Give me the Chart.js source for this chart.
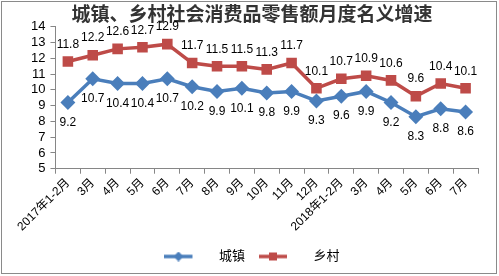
<!DOCTYPE html>
<html>
<head>
<meta charset="utf-8">
<script src="https://cdn.jsdelivr.net/npm/chart.js@4.4.0/dist/chart.umd.min.js"></script>
<style>
  html, body { margin: 0; padding: 0; background: #fff; }
  #wrap { width: 499px; height: 276px; position: relative; }
</style>
</head>
<body>
<div id="wrap"><canvas id="c" width="499" height="276"></canvas></div>
<script>
const categories = ['2017年1-2月', '3月', '4月', '5月', '6月', '7月', '8月', '9月', '10月', '11月', '12月',
  '2018年1-2月', '3月', '4月', '5月', '6月', '7月'];
const urban = [9.2, 10.7, 10.4, 10.4, 10.7, 10.2, 9.9, 10.1, 9.8, 9.9, 9.3, 9.6, 9.9, 9.2, 8.3, 8.8, 8.6];
const rural = [11.8, 12.2, 12.6, 12.7, 12.9, 11.7, 11.5, 11.5, 11.3, 11.7, 10.1, 10.7, 10.9, 10.6, 9.6, 10.4, 10.1];
const yTicks = [5, 6, 7, 8, 9, 10, 11, 12, 13, 14];

const FONT = "'Liberation Sans', 'Noto Sans CJK SC', sans-serif";
const BLUE = '#4A7EBB';
const RED = '#BE4B48';

// legend swatch: line with marker, drawn on a small canvas
function swatch(color, shape) {
  var cv = document.createElement('canvas');
  cv.width = 48; cv.height = 10;
  var g = cv.getContext('2d');
  g.strokeStyle = color; g.lineWidth = 3.5;
  g.beginPath(); g.moveTo(0, 5); g.lineTo(28, 5); g.stroke();
  g.fillStyle = color;
  if (shape === 'diamond') {
    g.beginPath(); g.moveTo(14, 0); g.lineTo(19, 5); g.lineTo(14, 10); g.lineTo(9, 5); g.closePath(); g.fill();
  } else {
    g.fillRect(10, 1, 8, 8);
  }
  return cv;
}

const frame = {
  id: 'frame',
  beforeDraw: function (chart) {
    var ctx = chart.ctx;
    ctx.save();
    ctx.fillStyle = '#fff';
    ctx.fillRect(0, 0, chart.width, chart.height);
    ctx.restore();
  },
  afterDraw: function (chart) {
    var ctx = chart.ctx;
    ctx.save();
    ctx.strokeStyle = '#8a8a8a';
    ctx.lineWidth = 1;
    ctx.strokeRect(1.5, 1.5, 495, 272);
    ctx.restore();
  }
};

const valueLabels = {
  id: 'valueLabels',
  afterDatasetsDraw: function (chart) {
    var ctx = chart.ctx;
    ctx.save();
    ctx.font = '12px ' + FONT;
    ctx.fillStyle = '#000';
    ctx.textAlign = 'center';
    ctx.textBaseline = 'middle';
    chart.data.datasets.forEach(function (ds, i) {
      var meta = chart.getDatasetMeta(i);
      var dy = i === 0 ? 20 : -17;
      meta.data.forEach(function (pt, j) {
        ctx.fillText(ds.data[j].toFixed(1), pt.x, pt.y + dy);
      });
    });
    ctx.restore();
  }
};

new Chart(document.getElementById('c'), {
  type: 'line',
  data: {
    labels: categories,
    datasets: [
      {
        label: '城镇',
        data: urban,
        borderColor: BLUE,
        backgroundColor: BLUE,
        borderWidth: 3.5,
        pointStyle: 'rectRot',
        pointRadius: 5,
        tension: 0,
        legendImg: swatch(BLUE, 'diamond')
      },
      {
        label: '乡村',
        data: rural,
        borderColor: RED,
        backgroundColor: RED,
        borderWidth: 3.5,
        pointStyle: 'rect',
        pointRadius: 5,
        tension: 0,
        legendImg: swatch(RED, 'square')
      }
    ]
  },
  options: {
    responsive: false,
    animation: false,
    devicePixelRatio: 1,
    layout: { padding: { left: 26, right: 21, top: 0, bottom: 3 } },
    plugins: {
      title: {
        display: true,
        text: '城镇、乡村社会消费品零售额月度名义增速',
        color: '#333',
        font: { family: FONT, size: 19, weight: 'bold' },
        padding: { top: 4, bottom: 0 }
      },
      legend: {
        position: 'bottom',
        labels: {
          usePointStyle: true,
          pointStyleWidth: 48,
          padding: 14,
          color: '#000',
          font: { family: FONT, size: 13 },
          generateLabels: function (chart) {
            return chart.data.datasets.map(function (ds, i) {
              return { text: ds.label, pointStyle: ds.legendImg, datasetIndex: i, fontColor: '#000', hidden: false };
            });
          }
        }
      },
      tooltip: { enabled: false }
    },
    scales: {
      x: {
        offset: true,
        grid: { display: true, offset: true, drawOnChartArea: false, tickLength: 5, color: '#868686' },
        border: { color: '#868686' },
        ticks: {
          autoSkip: false,
          minRotation: 45,
          maxRotation: 45,
          color: '#000',
          font: { family: FONT, size: 12 },
          padding: 2
        }
      },
      y: {
        min: 5,
        max: 14,
        afterBuildTicks: function (axis) {
          axis.ticks = yTicks.map(function (v) { return { value: v }; });
        },
        grid: { display: true, drawOnChartArea: false, tickLength: 5, color: '#868686' },
        border: { color: '#868686' },
        ticks: {
          autoSkip: false,
          color: '#000',
          font: { family: FONT, size: 13 },
          padding: 5
        }
      }
    }
  },
  plugins: [frame, valueLabels]
});
</script>
</body>
</html>
